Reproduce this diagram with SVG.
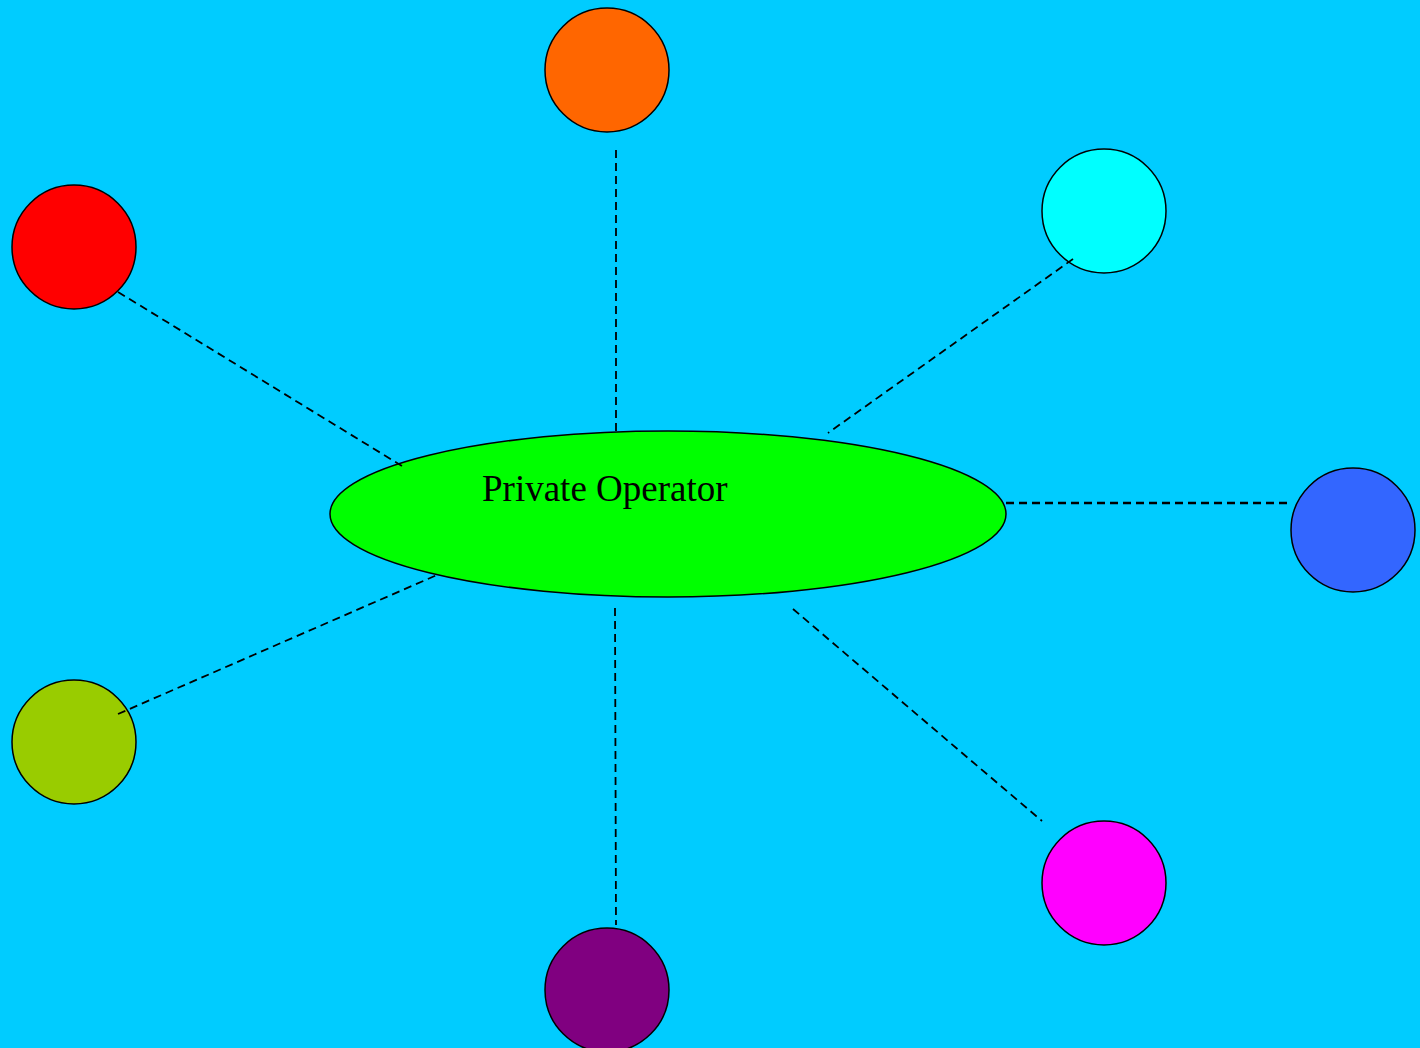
<svg xmlns="http://www.w3.org/2000/svg" width="1420" height="1048" viewBox="0 0 1420 1048">
<style>
.node{stroke:#000;stroke-width:1.5}
.conn line{stroke:#000;stroke-width:1.8;stroke-dasharray:8,5;fill:none}
.conn line.bold{stroke-width:2.6}
.label{font-family:"Liberation Serif","Times New Roman",serif;font-size:37px;fill:#000}
</style>
<rect x="0" y="0" width="1420" height="1048" fill="#00CCFF"/>
<g id="private-operator">
<ellipse class="node" cx="668" cy="514" rx="338" ry="83" fill="#00FF00"/>
<text class="label" x="482" y="501">Private Operator</text>
</g>
<g id="node-orange"><circle class="node" cx="607" cy="70" r="62" fill="#FF6600"/></g>
<g id="node-red"><circle class="node" cx="74" cy="247" r="62" fill="#FF0000"/></g>
<g id="node-cyan"><circle class="node" cx="1104" cy="211" r="62" fill="#00FFFF"/></g>
<g id="node-blue"><circle class="node" cx="1353" cy="530" r="62" fill="#3366FF"/></g>
<g id="node-olive"><circle class="node" cx="74" cy="742" r="62" fill="#99CC00"/></g>
<g id="node-purple"><circle class="node" cx="607" cy="990" r="62" fill="#800080"/></g>
<g id="node-magenta"><circle class="node" cx="1104" cy="883" r="62" fill="#FF00FF"/></g>
<g id="connectors" class="conn">
<line x1="616" y1="150" x2="616" y2="432"/>
<line x1="118" y1="292" x2="402" y2="466"/>
<line x1="1073" y1="259" x2="828" y2="433"/>
<line class="bold" x1="1006" y1="503" x2="1292" y2="503"/>
<line x1="118" y1="714" x2="437" y2="575"/>
<line x1="615" y1="608" x2="616" y2="925"/>
<line x1="793" y1="609" x2="1042" y2="821"/>
</g>
</svg>
